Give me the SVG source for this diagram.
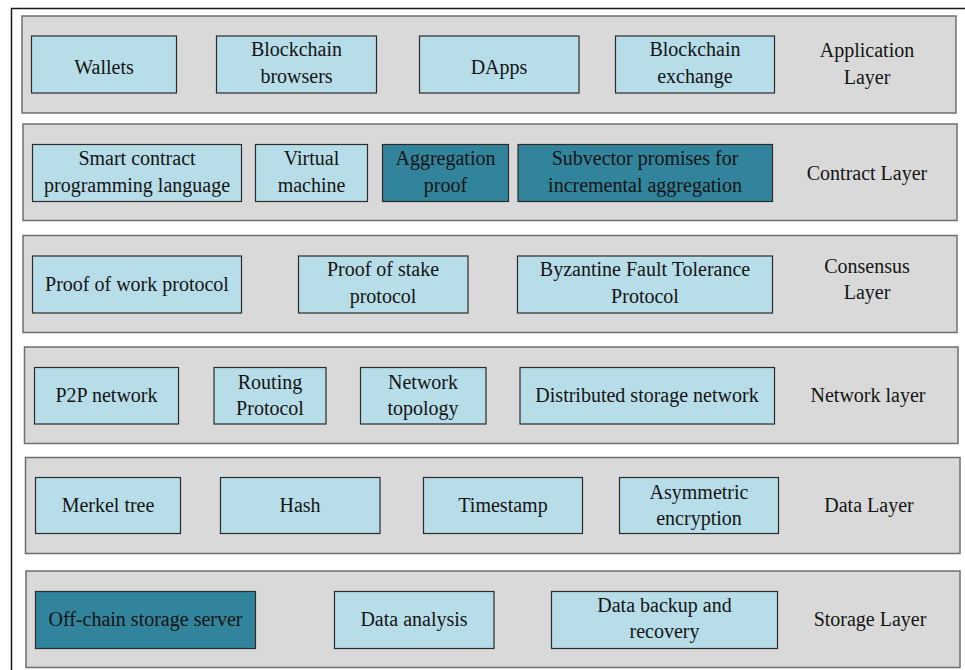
<svg xmlns="http://www.w3.org/2000/svg" width="965" height="670" viewBox="0 0 965 670">
<style>
.panel{fill:#d9d9d9;stroke:#6f6f6f;stroke-width:1.5}
.box{fill:#b7dde8;stroke:#2b2b2b;stroke-width:1.2}
.dark{fill:#31849b;stroke:#2b2b2b;stroke-width:1.2}
text{font-size:20px;fill:#141414;text-anchor:middle}
</style>
<rect width="965" height="670" fill="#ffffff"/>
<path d="M11.5,670 V8.5 H965" fill="none" stroke="#1a1a1a" stroke-width="1.5"/>
<g font-family="'Liberation Serif', 'Times New Roman', Times, serif">
<g id="application-layer">
<rect class="panel" x="22" y="16" width="934" height="97"/>
<text x="867" y="57">Application</text><text x="867" y="84">Layer</text>
</g>
<g id="wallets"><rect class="box" x="31.5" y="36" width="145" height="57"/><text x="104" y="74">Wallets</text></g>
<g id="blockchain-browsers"><rect class="box" x="216.5" y="36" width="160" height="57"/><text x="296.5" y="56">Blockchain</text><text x="296.5" y="83">browsers</text></g>
<g id="dapps"><rect class="box" x="419.5" y="36" width="159.5" height="57"/><text x="499" y="74">DApps</text></g>
<g id="blockchain-exchange"><rect class="box" x="615.5" y="36" width="159" height="57"/><text x="695" y="56">Blockchain</text><text x="695" y="83">exchange</text></g>

<g id="contract-layer">
<rect class="panel" x="23" y="124" width="934" height="96.5"/>
<text x="867" y="180">Contract Layer</text>
</g>
<g id="smart-contract-language"><rect class="box" x="32.5" y="144.5" width="209" height="57"/><text x="137" y="165">Smart contract</text><text x="137" y="192">programming language</text></g>
<g id="virtual-machine"><rect class="box" x="255.5" y="144.5" width="112" height="57"/><text x="311.5" y="165">Virtual</text><text x="311.5" y="192">machine</text></g>
<g id="aggregation-proof"><rect class="dark" x="382.5" y="144.5" width="126" height="57"/><text x="445.5" y="165">Aggregation</text><text x="445.5" y="192">proof</text></g>
<g id="subvector-promises"><rect class="dark" x="518" y="144.5" width="254.5" height="57"/><text x="645" y="165">Subvector promises for</text><text x="645" y="192">incremental aggregation</text></g>

<g id="consensus-layer">
<rect class="panel" x="23" y="235.5" width="934" height="97"/>
<text x="867" y="273">Consensus</text><text x="867" y="299">Layer</text>
</g>
<g id="proof-of-work"><rect class="box" x="32.5" y="256" width="209" height="57"/><text x="137" y="291">Proof of work protocol</text></g>
<g id="proof-of-stake"><rect class="box" x="298.5" y="256" width="169.5" height="57"/><text x="383" y="276">Proof of stake</text><text x="383" y="303">protocol</text></g>
<g id="byzantine-fault-tolerance"><rect class="box" x="517.5" y="256" width="255" height="57"/><text x="645" y="276">Byzantine Fault Tolerance</text><text x="645" y="303">Protocol</text></g>

<g id="network-layer">
<rect class="panel" x="24.5" y="347" width="933.5" height="96.5"/>
<text x="868" y="402">Network layer</text>
</g>
<g id="p2p-network"><rect class="box" x="34.5" y="367.5" width="144" height="56.5"/><text x="106.5" y="402">P2P network</text></g>
<g id="routing-protocol"><rect class="box" x="214" y="367.5" width="112" height="56.5"/><text x="270" y="388.5">Routing</text><text x="270" y="414.5">Protocol</text></g>
<g id="network-topology"><rect class="box" x="360.5" y="367.5" width="125.5" height="56.5"/><text x="423" y="388.5">Network</text><text x="423" y="414.5">topology</text></g>
<g id="distributed-storage-network"><rect class="box" x="520" y="367.5" width="254.5" height="56.5"/><text x="647" y="402">Distributed storage network</text></g>

<g id="data-layer">
<rect class="panel" x="25.5" y="457.5" width="934.5" height="96"/>
<text x="869" y="512">Data Layer</text>
</g>
<g id="merkel-tree"><rect class="box" x="35.5" y="477.5" width="145" height="56"/><text x="108" y="512">Merkel tree</text></g>
<g id="hash"><rect class="box" x="220.5" y="477.5" width="159.5" height="56"/><text x="300" y="512">Hash</text></g>
<g id="timestamp"><rect class="box" x="423.5" y="477.5" width="159" height="56"/><text x="503" y="512">Timestamp</text></g>
<g id="asymmetric-encryption"><rect class="box" x="619.5" y="477.5" width="159" height="56"/><text x="699" y="498.5">Asymmetric</text><text x="699" y="524.5">encryption</text></g>

<g id="storage-layer">
<rect class="panel" x="26" y="571" width="934" height="96.5"/>
<text x="870" y="625.5">Storage Layer</text>
</g>
<g id="off-chain-storage-server"><rect class="dark" x="35.5" y="591.5" width="220" height="57"/><text x="145.5" y="625.5">Off-chain storage server</text></g>
<g id="data-analysis"><rect class="box" x="334.5" y="591.5" width="159.5" height="57"/><text x="414" y="625.5">Data analysis</text></g>
<g id="data-backup-recovery"><rect class="box" x="551.5" y="591.5" width="226" height="57"/><text x="664.5" y="612">Data backup and</text><text x="664.5" y="638">recovery</text></g>
</g>
<g id="connectors"></g>
</svg>
